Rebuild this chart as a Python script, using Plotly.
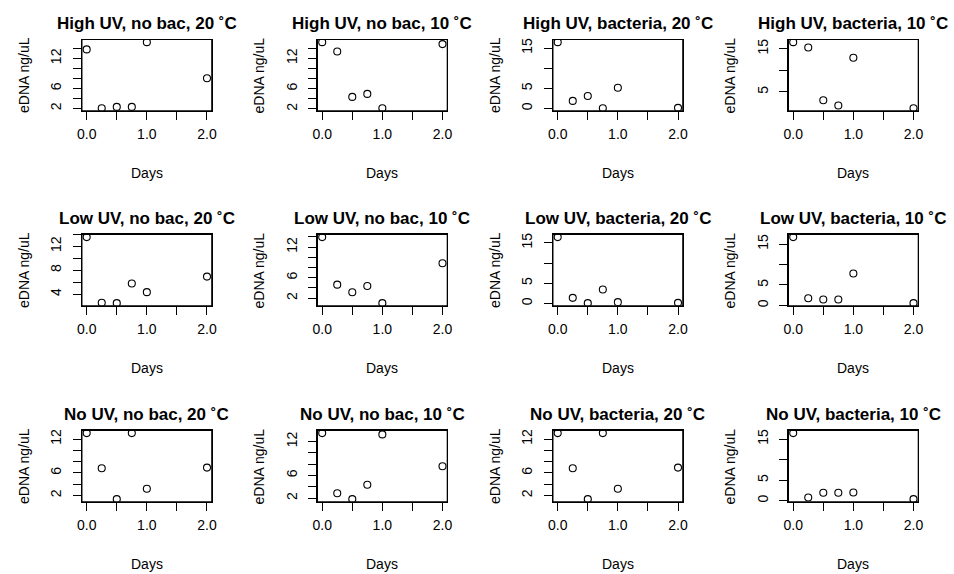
import plotly.graph_objects as go

# ---------------- data ----------------
days = [0.0, 0.25, 0.5, 0.75, 1.0, 2.0]

high_nobac_20 = [13.8, 2.07, 2.33, 2.33, 15.25, 8.03]
high_nobac_10 = [15.18, 13.34, 4.36, 4.95, 2.13, 14.79]
high_bac_20 = [16.48, 1.89, 3.11, 0.08, 5.16, 0.16]
high_bac_10 = [16.54, 15.31, 3.08, 1.85, 12.92, 1.23]
low_nobac_20 = [13.56, 2.56, 2.48, 5.78, 4.33, 6.94]
low_nobac_10 = [13.94, 4.65, 3.16, 4.39, 1.03, 8.84]
low_bac_20 = [16.4, 1.39, 0.08, 3.44, 0.33, 0.16]
low_bac_10 = [16.69, 1.77, 1.45, 1.45, 7.82, 0.56]
no_nobac_20 = [13.06, 6.82, 1.35, 13.06, 3.18, 6.94]
no_nobac_10 = [13.48, 2.87, 1.83, 4.38, 13.25, 7.62]
no_bac_20 = [13.06, 6.82, 1.35, 13.06, 3.18, 6.94]
no_bac_10 = [16.45, 0.81, 1.94, 1.94, 2.02, 0.40]

titles = [
    "High UV, no bac, 20 ˚C", "High UV, no bac, 10 ˚C",
    "High UV, bacteria, 20 ˚C", "High UV, bacteria, 10 ˚C",
    "Low UV, no bac, 20 ˚C", "Low UV, no bac, 10 ˚C",
    "Low UV, bacteria, 20 ˚C", "Low UV, bacteria, 10 ˚C",
    "No UV, no bac, 20 ˚C", "No UV, no bac, 10 ˚C",
    "No UV, bacteria, 20 ˚C", "No UV, bacteria, 10 ˚C",
]
series = [
    high_nobac_20, high_nobac_10, high_bac_20, high_bac_10,
    low_nobac_20, low_nobac_10, low_bac_20, low_bac_10,
    no_nobac_20, no_nobac_10, no_bac_20, no_bac_10,
]

x_ticks = [0.0, 0.5, 1.0, 1.5, 2.0]
x_tick_labels = ["0.0", "", "1.0", "", "2.0"]

yt_2_14 = [2, 4, 6, 8, 10, 12, 14]
yl_2_14 = ["2", "", "6", "", "", "12", ""]
yt_0_15 = [0, 5, 10, 15]
yl_0_15 = ["0", "5", "", "15"]
yt_5_15 = [5, 10, 15]
yl_5_15 = ["5", "", "15"]
yt_4_14 = [4, 6, 8, 10, 12, 14]
yl_4_14 = ["4", "", "8", "", "12", ""]
yt_2_12 = [2, 4, 6, 8, 10, 12]
yl_2_12 = ["2", "", "6", "", "", "12"]

y_ticks = [yt_2_14, yt_2_14, yt_0_15, yt_5_15,
           yt_4_14, yt_2_14, yt_0_15, yt_0_15,
           yt_2_12, yt_2_12, yt_2_12, yt_0_15]
y_tick_labels = [yl_2_14, yl_2_14, yl_0_15, yl_5_15,
                 yl_4_14, yl_2_14, yl_0_15, yl_0_15,
                 yl_2_12, yl_2_12, yl_2_12, yl_0_15]

x_label = "Days"
y_label = "eDNA ng/uL"

# ---------------- layout geometry (pixels) ----------------
W, H = 954, 574
box_left0 = 77.7
col_step = 238.0
box_w = 131.3
row_tops = [37.7, 233.7, 430.7]
box_h = 71.7

FONT = "Liberation Sans, Arial, Helvetica, sans-serif"

fig = go.Figure()
annotations = []
shapes = []
layout_axes = {}

for i, (ys, title) in enumerate(zip(series, titles)):
    r, c = divmod(i, 4)
    left = box_left0 + c * col_step
    right = left + box_w
    top = row_tops[r]
    bottom = top + box_h
    n = i + 1
    xa = "x" if n == 1 else f"x{n}"
    ya = "y" if n == 1 else f"y{n}"
    fig.add_trace(go.Scatter(
        x=days, y=ys, mode="markers", xaxis=xa, yaxis=ya,
        marker=dict(symbol="circle-open", size=7, color="black",
                    line=dict(width=1.1, color="black")),
        showlegend=False, hoverinfo="x+y"))

    lo, hi = min(ys), max(ys)
    pad = 0.04 * (hi - lo)
    xlo, xhi = min(days), max(days)
    xpad = 0.04 * (xhi - xlo)

    common = dict(showline=True, mirror=True, linecolor="black", linewidth=1,
                  ticks="outside", ticklen=8, tickwidth=1, tickcolor="black",
                  showgrid=False, zeroline=False,
                  tickfont=dict(family=FONT, size=14, color="black"))
    layout_axes["xaxis" if n == 1 else f"xaxis{n}"] = dict(
        domain=[left / W, right / W], anchor=ya,
        range=[xlo - xpad, xhi + xpad],
        tickmode="array", tickvals=x_ticks, ticktext=x_tick_labels,
        ticklabelstandoff=2, **common)
    layout_axes["yaxis" if n == 1 else f"yaxis{n}"] = dict(
        domain=[1 - bottom / H, 1 - top / H], anchor=xa,
        range=[lo - pad, hi + pad],
        tickmode="array", tickvals=y_ticks[i], ticktext=y_tick_labels[i],
        tickangle=-90, ticklabelstandoff=6, **common)

    shapes.append(dict(
        type="rect", xref=f"{xa} domain", yref=f"{ya} domain",
        x0=0, x1=1, y0=0, y1=1, line=dict(color="black", width=1.2),
        fillcolor="rgba(0,0,0,0)", layer="above"))

    cx = (left + right) / 2
    annotations.append(dict(
        text=f"<b>{title}</b>", x=cx / W, y=1 - (top - 16) / H,
        xref="paper", yref="paper", xanchor="center", yanchor="middle",
        showarrow=False, font=dict(family=FONT, size=17, color="black")))
    annotations.append(dict(
        text=x_label, x=cx / W, y=1 - (bottom + 62.4) / H,
        xref="paper", yref="paper", xanchor="center", yanchor="middle",
        showarrow=False, font=dict(family=FONT, size=14, color="black")))
    annotations.append(dict(
        text=y_label, x=(left - 58.7) / W, y=1 - (top + box_h / 2) / H,
        xref="paper", yref="paper", xanchor="center", yanchor="middle",
        textangle=-90, showarrow=False,
        font=dict(family=FONT, size=14, color="black")))

fig.update_layout(
    width=W, height=H, margin=dict(l=0, r=0, t=0, b=0),
    paper_bgcolor="white", plot_bgcolor="white",
    annotations=annotations, shapes=shapes, **layout_axes)

fig.write_html("out.html")
